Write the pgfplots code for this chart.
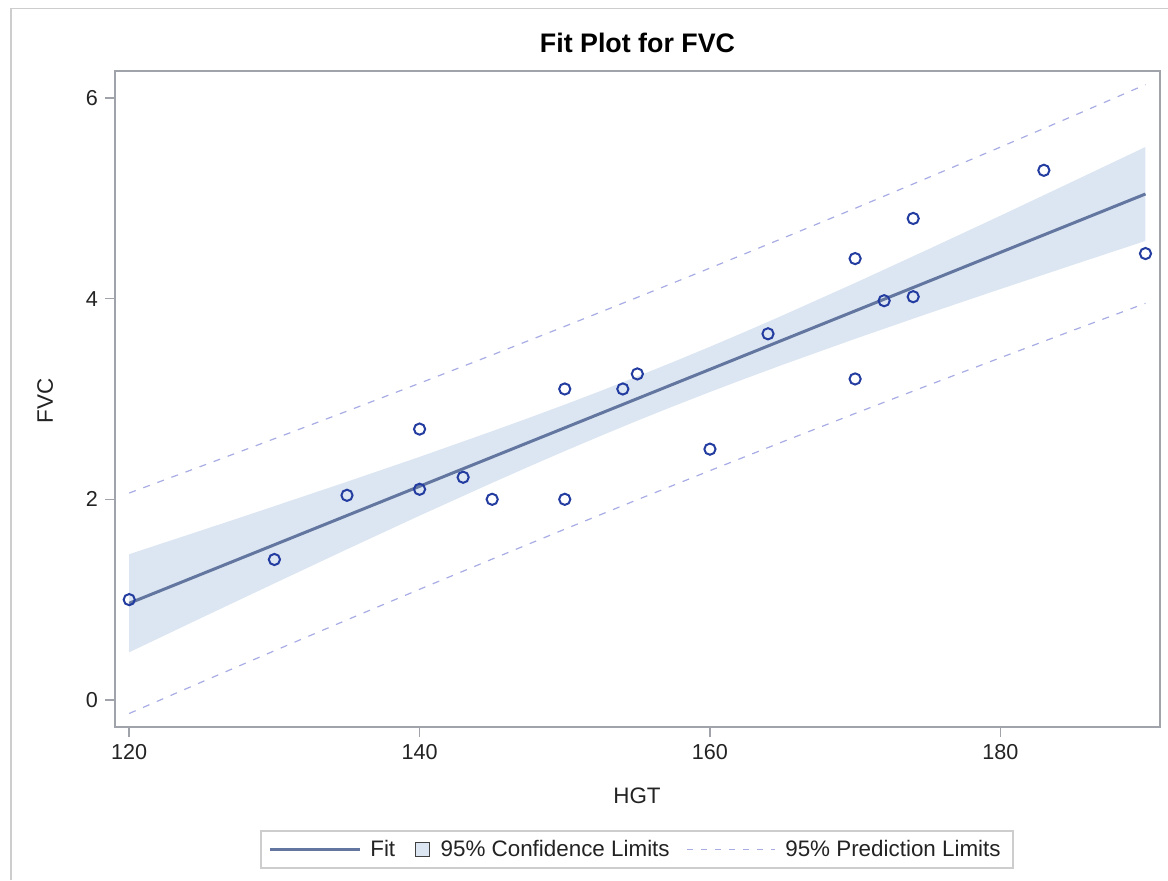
\documentclass[border=0pt]{standalone}
\usepackage{fontspec}
\setmainfont{Liberation Sans}
\usepackage{pgfplots}
\pgfplotsset{compat=1.18}
\definecolor{framec}{RGB}{160,164,170}
\definecolor{fitc}{RGB}{98,118,160}
\definecolor{bandc}{RGB}{220,229,242}
\definecolor{pic}{RGB}{168,172,228}
\definecolor{markc}{RGB}{35,60,160}
\definecolor{txt}{RGB}{35,35,35}
\definecolor{bord}{RGB}{205,205,205}

\begin{document}
\begin{tikzpicture}
\path[use as bounding box] (0,0) rectangle (584pt,440pt);
\draw[bord, line width=0.8pt] (5.5pt,0) -- (5.5pt,435.8pt) -- (584pt,435.8pt);
\begin{axis}[
  at={(57.5pt,76.5pt)}, anchor=south west,
  width=522.5pt, height=328pt, scale only axis,
  xmin=119.02, xmax=191.0, ymin=-0.27, ymax=6.27,
  xtick={120,140,160,180}, ytick={0,2,4,6},
  tick pos=left, tick align=outside, major tick length=5pt,
  axis line style={framec, line width=0.8pt},
  every tick/.style={framec, line width=0.8pt},
  tick label style={font=\fontsize{10.8}{12}\selectfont, text=txt},
  /pgf/number format/assume math mode=true,
  legend columns=3,
  legend style={at={(0.4993,-0.1867)}, anchor=center, draw=bord, line width=0.8pt,
    font=\fontsize{11.2}{13}\selectfont, text=txt, inner xsep=4pt, inner ysep=2.5pt,
    /tikz/every even column/.append style={column sep=6.5pt}},
]
\addlegendimage{legend image code/.code={\draw[fitc, line width=1.5pt] (0pt,0pt) -- (45pt,0pt); \path[draw=none,fill=none] (45pt,0pt) -- (48pt,0pt);}}
\addlegendimage{legend image code/.code={\path[draw=none,fill=none] (-1.5pt,0pt) -- (0pt,0pt); \draw[black!75, fill=bandc, line width=0.6pt] (0pt,-3.6pt) rectangle (7.2pt,3.6pt); \path[draw=none,fill=none] (7.2pt,0pt) -- (10.7pt,0pt);}}
\addlegendimage{legend image code/.code={\draw[pic, line width=0.6pt, dash pattern=on 3pt off 4pt] (0pt,0pt) -- (44pt,0pt); \path[draw=none,fill=none] (44pt,0pt) -- (47pt,0pt);}}
% 95% confidence band (upper then lower reversed)
\addplot[fill=bandc, draw=none, forget plot] coordinates {
(120,1.453) (125,1.691) (130,1.932) (135,2.175) (140,2.423) (145,2.679) (147.5,2.810) (150,2.944)
(152.5,3.082) (155,3.225) (157.5,3.371) (160,3.521) (162.5,3.675) (165,3.833) (170,4.157) (175,4.490) (180,4.827) (185,5.169) (190,5.513)
(190,4.576) (185,4.337) (180,4.096) (175,3.851) (170,3.600) (165,3.341) (162.5,3.207) (160,3.070) (157.5,2.929)
(155,2.784) (152.5,2.634) (150,2.481) (147.5,2.324) (145,2.164) (140,1.837) (135,1.502) (130,1.162) (125,0.820) (120,0.475)
};
% fit
\addplot[fitc, line width=1.5pt, forget plot] coordinates {(120,0.964) (190,5.044)};
% prediction limits
\addplot[pic, line width=0.6pt, dash pattern=on 3.5pt off 4pt, forget plot] coordinates {
(120,2.063) (125,2.332) (130,2.604) (135,2.879) (140,3.157) (145,3.439) (150,3.724)
(155,4.013) (160,4.305) (165,4.602) (170,4.901) (175,5.205) (180,5.511) (185,5.821) (190,6.134)};
\addplot[pic, line width=0.6pt, dash pattern=on 3.5pt off 4pt, forget plot] coordinates {
(120,-0.135) (125,0.179) (130,0.490) (135,0.798) (140,1.103) (145,1.404) (150,1.702)
(155,1.996) (160,2.286) (165,2.573) (170,2.856) (175,3.135) (180,3.411) (185,3.684) (190,3.954)};
% observations
\addplot[only marks, mark=o, mark size=2.8pt, markc, line width=1pt, forget plot] coordinates {
(120,1.00) (130,1.40) (135,2.04) (140,2.70) (140,2.10) (143,2.22) (145,2.00)
(150,3.10) (150,2.00) (154,3.10) (155,3.25) (160,2.50) (164,3.65) (170,4.40)
(170,3.20) (172,3.98) (174,4.80) (174,4.02) (183,5.28) (190,4.45)};
\legend{Fit, 95\% Confidence Limits, 95\% Prediction Limits}
\end{axis}
\node[anchor=base, font=\bfseries\fontsize{13.4}{15}\selectfont] at (318.75pt,413.5pt) {Fit Plot for FVC};
\node[anchor=base, font=\fontsize{11.2}{13}\selectfont, text=txt] at (318.5pt,38.5pt) {HGT};
\node[anchor=base, rotate=90, font=\fontsize{11.2}{13}\selectfont, text=txt] at (26.5pt,239.5pt) {FVC};
\end{tikzpicture}
\end{document}
